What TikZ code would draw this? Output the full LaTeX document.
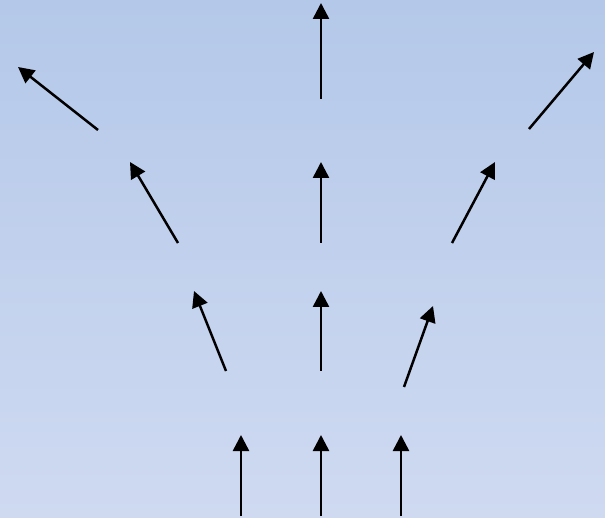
\documentclass[tikz,border=0pt]{standalone}
\usetikzlibrary{arrows.meta}
\definecolor{bgtop}{HTML}{B4C8E9}
\definecolor{bgbot}{HTML}{CFDAF1}
\begin{document}
\begin{tikzpicture}[x=1pt,y=-1pt,
  arr/.style={line width=2.5pt,-{Triangle[length=16pt,width=16pt]}}]
\shade[top color=bgtop,bottom color=bgbot] (0,0) rectangle (605,518);
\useasboundingbox (0,0) rectangle (605,518);
% row 1
\coordinate (r1as) at (241,516); \coordinate (r1ae) at (241,435);
\coordinate (r1bs) at (321,516); \coordinate (r1be) at (321,435);
\coordinate (r1cs) at (401,516); \coordinate (r1ce) at (401,435);
% row 2
\coordinate (r2as) at (226,371); \coordinate (r2ae) at (194,291);
\coordinate (r2bs) at (321,371); \coordinate (r2be) at (321,291);
\coordinate (r2cs) at (404,387); \coordinate (r2ce) at (433,306);
% row 3
\coordinate (r3as) at (178,243); \coordinate (r3ae) at (130,162);
\coordinate (r3bs) at (321,243); \coordinate (r3be) at (321,162);
\coordinate (r3cs) at (452,243); \coordinate (r3ce) at (495,162);
% row 4
\coordinate (r4as) at (98,130); \coordinate (r4ae) at (18,67);
\coordinate (r4bs) at (321,99); \coordinate (r4be) at (321,3);
\coordinate (r4cs) at (529,129); \coordinate (r4ce) at (594,52);
\foreach \r in {1,2,3,4}{
  \foreach \c in {a,b,c}{
    \draw[arr] (r\r\c s) -- (r\r\c e);
  }
}
\end{tikzpicture}
\end{document}
